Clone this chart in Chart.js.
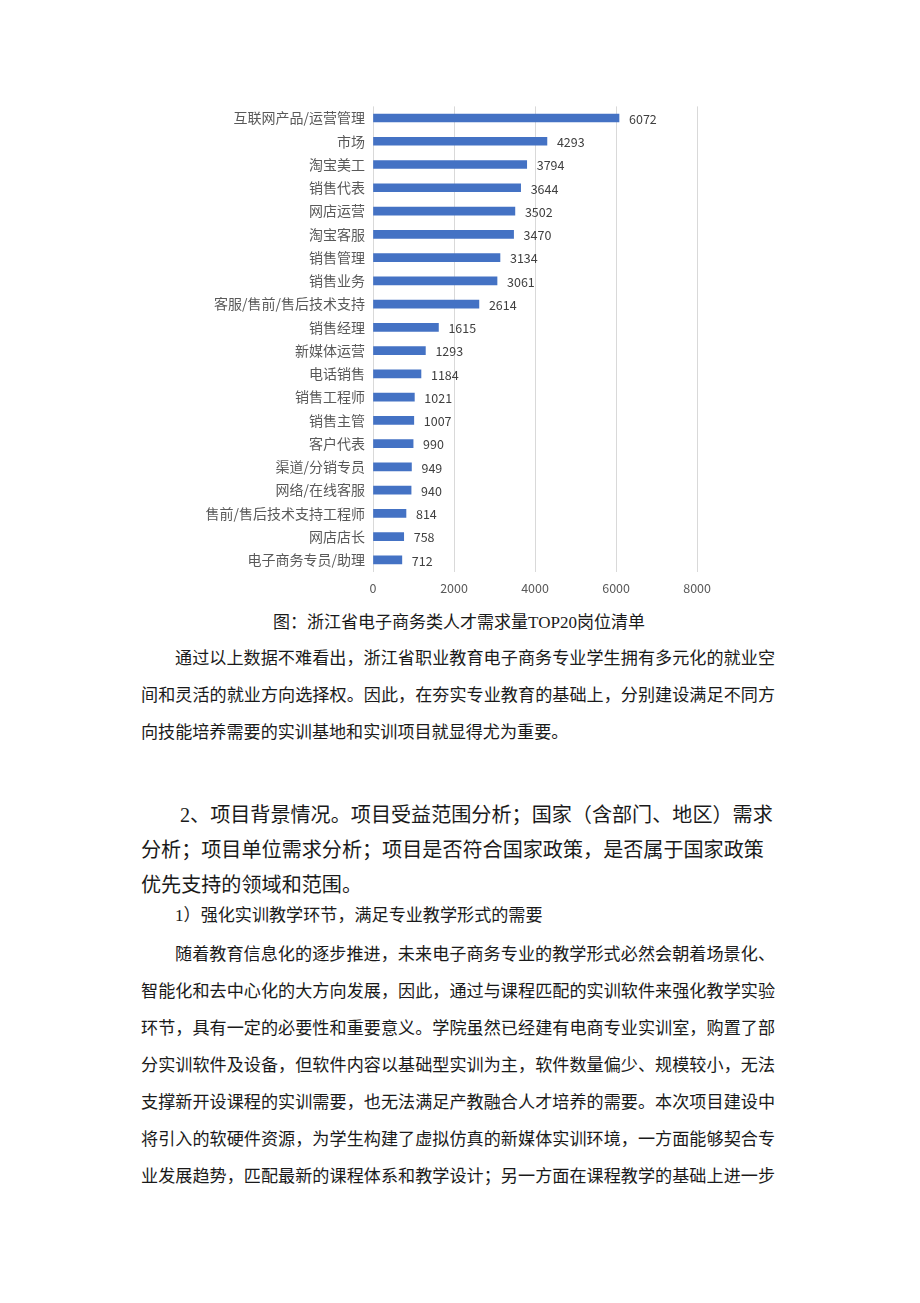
<!DOCTYPE html>
<html>
<head>
<meta charset="utf-8">
<script src="https://cdn.jsdelivr.net/npm/chart.js@4/dist/chart.umd.min.js"></script>
<style>
  html, body { margin: 0; padding: 0; background: #fff; }
  body { width: 920px; height: 1303px; position: relative; overflow: hidden;
         font-family: "Liberation Serif", "Noto Sans CJK SC", serif; color: #1a1a1a; }
  #chartBox { position: absolute; left: 200px; top: 90px; width: 520px; height: 515px; }
  .caption { position: absolute; left: 0; width: 918px; top: 611px; text-align: center;
             font-size: 17px; line-height: 24px; }
  .block { position: absolute; left: 141px; width: 634px; }
  .block div { text-align: justify; text-align-last: justify; }
  .block div.last { text-align-last: left; }
  .body17 { font-size: 17.1px; line-height: 37px; }
  .head { font-size: 20.1px; line-height: 35px; }
  .head div { text-align: left; text-align-last: left; white-space: nowrap; }
  .ind { padding-left: 34px; }
  .head .ind { padding-left: 39px; }
  .sub { position: absolute; left: 175px; top: 904px; font-size: 17.1px; line-height: 24px; white-space: nowrap; }
</style>
</head>
<body>
<div id="chartBox"><canvas id="c"></canvas></div>

<div class="caption">图：浙江省电子商务类人才需求量TOP20岗位清单</div>

<div class="block body17" style="top:640px">
  <div class="ind">通过以上数据不难看出，浙江省职业教育电子商务专业学生拥有多元化的就业空</div>
  <div>间和灵活的就业方向选择权。因此，在夯实专业教育的基础上，分别建设满足不同方</div>
  <div class="last">向技能培养需要的实训基地和实训项目就显得尤为重要。</div>
</div>

<div class="block head" style="top:798px">
  <div class="ind">2、项目背景情况。项目受益范围分析；国家（含部门、地区）需求</div>
  <div>分析；项目单位需求分析；项目是否符合国家政策，是否属于国家政策</div>
  <div>优先支持的领域和范围。</div>
</div>

<div class="sub">1）强化实训教学环节，满足专业教学形式的需要</div>

<div class="block body17" style="top:936px">
  <div class="ind">随着教育信息化的逐步推进，未来电子商务专业的教学形式必然会朝着场景化、</div>
  <div>智能化和去中心化的大方向发展，因此，通过与课程匹配的实训软件来强化教学实验</div>
  <div>环节，具有一定的必要性和重要意义。学院虽然已经建有电商专业实训室，购置了部</div>
  <div>分实训软件及设备，但软件内容以基础型实训为主，软件数量偏少、规模较小，无法</div>
  <div>支撑新开设课程的实训需要，也无法满足产教融合人才培养的需要。本次项目建设中</div>
  <div>将引入的软硬件资源，为学生构建了虚拟仿真的新媒体实训环境，一方面能够契合专</div>
  <div>业发展趋势，匹配最新的课程体系和教学设计；另一方面在课程教学的基础上进一步</div>
</div>

<script>
const categories = [
  "互联网产品/运营管理", "市场", "淘宝美工", "销售代表", "网店运营",
  "淘宝客服", "销售管理", "销售业务", "客服/售前/售后技术支持", "销售经理",
  "新媒体运营", "电话销售", "销售工程师", "销售主管", "客户代表",
  "渠道/分销专员", "网络/在线客服", "售前/售后技术支持工程师", "网店店长", "电子商务专员/助理"
];
const demand = [6072, 4293, 3794, 3644, 3502, 3470, 3134, 3061, 2614, 1615,
                1293, 1184, 1021, 1007, 990, 949, 940, 814, 758, 712];
const xTicks = [0, 2000, 4000, 6000, 8000];

const cjk = '"Noto Sans CJK SC", "Noto Sans", sans-serif';

// value labels drawn at the end of each bar
const valueLabels = {
  id: "valueLabels",
  afterDatasetsDraw(chart) {
    const ctx = chart.ctx;
    const meta = chart.getDatasetMeta(0);
    ctx.save();
    ctx.font = "12.5px " + cjk;
    ctx.fillStyle = "#404040";
    ctx.textAlign = "left";
    ctx.textBaseline = "middle";
    meta.data.forEach((bar, i) => {
      ctx.fillText(String(demand[i]), bar.x + 10, bar.y + 1);
    });
    ctx.restore();
  }
};

new Chart(document.getElementById("c").getContext("2d"), {
  type: "bar",
  data: {
    labels: categories,
    datasets: [{
      data: demand,
      backgroundColor: "#4472C4",
      barThickness: 8
    }]
  },
  options: {
    indexAxis: "y",
    responsive: true,
    maintainAspectRatio: false,
    animation: false,
    layout: { padding: { top: 8, right: 21, left: 0, bottom: 0 } },
    plugins: { legend: { display: false }, tooltip: { enabled: false } },
    scales: {
      x: {
        min: 0, max: 8000,
        afterBuildTicks: (s) => { s.ticks = xTicks.map(v => ({ value: v })); },
        grid: { color: "#d9d9d9", drawTicks: false, lineWidth: 1 },
        border: { display: false },
        ticks: { font: { family: cjk, size: 12.5 }, color: "#595959", padding: 9,
                 callback: (v) => String(v) },
        afterFit: (s) => { s.height = 33.5; }
      },
      y: {
        grid: { display: false, drawTicks: false },
        border: { display: false },
        ticks: { font: { family: cjk, size: 14 }, color: "#595959", padding: 8, autoSkip: false },
        afterFit: (s) => { s.width = 173; }
      }
    }
  },
  plugins: [valueLabels]
});
</script>
</body>
</html>
